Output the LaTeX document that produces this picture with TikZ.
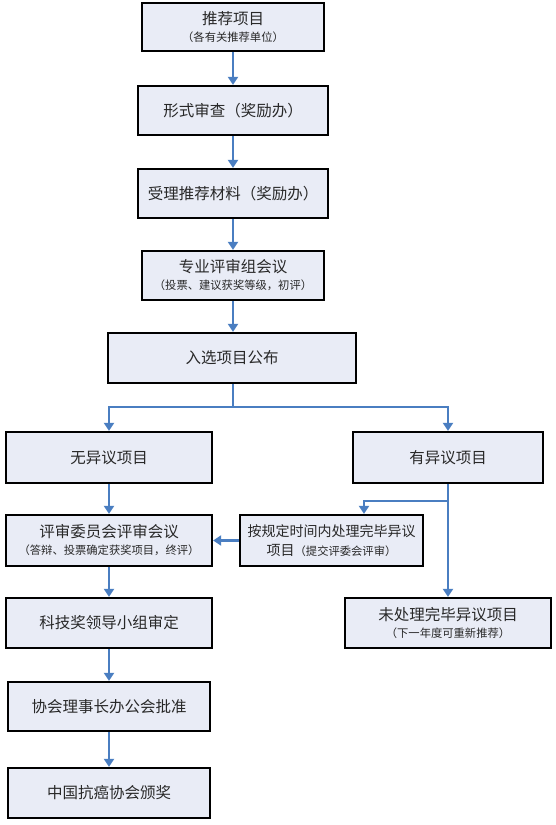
\documentclass[tikz,border=0pt]{standalone}
\usepackage{fontspec}
\newfontfamily\cjk{Noto Sans CJK SC}
\usetikzlibrary{arrows.meta,positioning,calc}
\definecolor{boxfill}{RGB}{233,236,246}
\definecolor{arrblue}{RGB}{74,126,193}
\definecolor{txt}{RGB}{40,40,40}
\newcommand{\bigt}{\fontsize{15.5}{19}\selectfont}
\newcommand{\smallt}{\fontsize{11.3}{13}\selectfont}
\begin{document}
\begin{tikzpicture}[x=1pt,y=-1pt,
  box/.style={draw=black,line width=2.2pt,fill=boxfill,inner sep=0pt,align=center,text=txt,font=\cjk\bigt},
  arr/.style={draw=arrblue,line width=2.4pt,-{Triangle[length=8pt,width=10pt]}},
  ln/.style={draw=arrblue,line width=2.4pt}]
\useasboundingbox (0,0) rectangle (555,825);
\node[box,minimum width=182pt,minimum height=48pt] (n1) at (233,27) {推荐项目\\[-2pt]{\smallt（各有关推荐单位）}};
\node[box,minimum width=190pt,minimum height=49pt] (n2) at (233,110.5) {形式审查（奖励办）};
\node[box,minimum width=190pt,minimum height=49pt] (n3) at (233,193.5) {受理推荐材料（奖励办）};
\node[box,minimum width=182pt,minimum height=49pt] (n4) at (233,275.5) {专业评审组会议\\[-2pt]{\smallt（投票、建议获奖等级，初评）}};
\node[box,minimum width=248pt,minimum height=50pt] (n5) at (232,358) {入选项目公布};
\node[box,minimum width=206pt,minimum height=51pt] (n6) at (109,457.5) {无异议项目};
\node[box,minimum width=190pt,minimum height=51pt] (n7) at (448,457.5) {有异议项目};
\node[box,minimum width=206pt,minimum height=51pt] (n8) at (109,540.5) {评审委员会评审会议\\[-2pt]{\smallt（答辩、投票确定获奖项目，终评）}};
\node[box,minimum width=183pt,minimum height=51pt,font=\cjk\fontsize{14}{19}\selectfont] (n9) at (331.5,540.5) {按规定时间内处理完毕异议\\项目{\smallt（提交评委会评审）}};
\node[box,minimum width=206pt,minimum height=50pt] (n10) at (109,623) {科技奖领导小组审定};
\node[box,minimum width=206pt,minimum height=50pt] (n11) at (448,623) {未处理完毕异议项目\\[-2pt]{\smallt（下一年度可重新推荐）}};
\node[box,minimum width=202pt,minimum height=49pt] (n12) at (109,706.5) {协会理事长办公会批准};
\node[box,minimum width=202pt,minimum height=50pt] (n13) at (109,793) {中国抗癌协会颁奖};
\draw[arr] (n1.south) -- (n2.north);
\draw[arr] (n2.south) -- (n3.north);
\draw[arr] (n3.south) -- (n4.north);
\draw[arr] (n4.south) -- (n4.south |- n5.north);
\coordinate (b5) at ($(n5.south)+(1,23)$);
\draw[ln] ($(n5.south)+(1,0)$) -- (b5);
\draw[arr] (b5) -| (n6.north);
\draw[arr] (b5) -| (n7.north);
\draw[arr] (n6.south) -- (n8.north);
\draw[arr] (n7.south) -- (n11.north);
\coordinate (b7) at ($(n7.south)+(0,17)$);
\draw[arr] (b7) -| ([xshift=32.5pt]n9.north);
\draw[arr] (n9.west) -- (n8.east);
\draw[arr] (n8.south) -- (n10.north);
\draw[arr] (n10.south) -- (n12.north);
\draw[arr] (n12.south) -- (n13.north);
\end{tikzpicture}
\end{document}
